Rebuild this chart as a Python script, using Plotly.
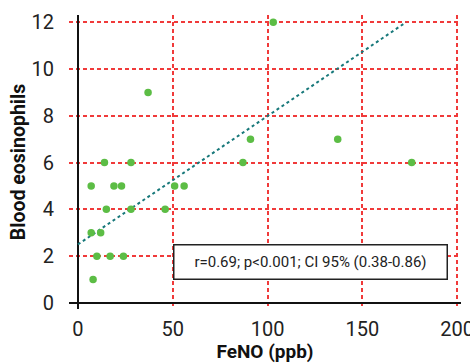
import plotly.graph_objects as go

# Data
feno = [7, 19, 23, 51, 56, 15, 28, 46, 7, 12, 10, 17, 24, 8,
        14, 28, 37, 103, 91, 137, 87, 176]
eos = [5, 5, 5, 5, 5, 4, 4, 4, 3, 3, 2, 2, 2, 1,
       6, 6, 9, 12, 7, 7, 6, 6]

trend_x = [0, 173]
trend_y = [2.5, 12.0]

x_ticks = [0, 50, 100, 150, 200]
y_ticks = [0, 2, 4, 6, 8, 10, 12]

stats_text = "r=0.69; p<0.001; CI 95% (0.38-0.86)"

FONT = "Roboto, Liberation Sans, sans-serif"
GRID = "#f03a3a"

fig = go.Figure()
fig.add_trace(go.Scatter(
    x=trend_x, y=trend_y, mode="lines",
    line=dict(color="#17787a", width=2, dash="dot"),
    hoverinfo="skip", showlegend=False))
fig.add_trace(go.Scatter(
    x=feno, y=eos, mode="markers",
    marker=dict(color="#5cbd45", size=7.5, line=dict(width=0)),
    showlegend=False))

fig.add_annotation(
    x=122.4, y=1.73, xref="x", yref="y",
    text=stats_text, showarrow=False,
    font=dict(family=FONT, size=15, color="#222222"),
    bgcolor="white", bordercolor="#222222", borderwidth=1.5,
    width=270, height=31, align="center", valign="middle")

fig.update_layout(
    width=470, height=363,
    margin=dict(l=69, r=9, t=15, b=54, autoexpand=False),
    paper_bgcolor="white", plot_bgcolor="white",
    font=dict(family=FONT, color="#222222"),
)
fig.update_xaxes(
    range=[-4.7, 202], tickvals=x_ticks, automargin=False,
    showgrid=True, gridcolor=GRID, gridwidth=1.5, griddash="4px,3px",
    zeroline=True, zerolinecolor="#111111", zerolinewidth=1.5,
    showline=False, ticks="", ticklabelstandoff=6, ticklabeloverflow="allow",
    tickfont=dict(family=FONT, size=20, color="#222222"),
    title=dict(text="<b>FeNO (ppb)</b>", font=dict(family=FONT, size=19, color="#111111"),
               standoff=6),
)
fig.update_yaxes(
    range=[-0.26, 12.31], tickvals=y_ticks, automargin=False,
    showgrid=True, gridcolor=GRID, gridwidth=1.5, griddash="4px,3px",
    zeroline=True, zerolinecolor="#111111", zerolinewidth=1.5,
    showline=False, ticks="", ticklabelstandoff=14,
    tickfont=dict(family=FONT, size=20, color="#222222"),
    title=dict(text="<b>Blood eosinophils</b>", font=dict(family=FONT, size=19.5, color="#111111"),
               standoff=0),
)

fig.write_html("out.html")
